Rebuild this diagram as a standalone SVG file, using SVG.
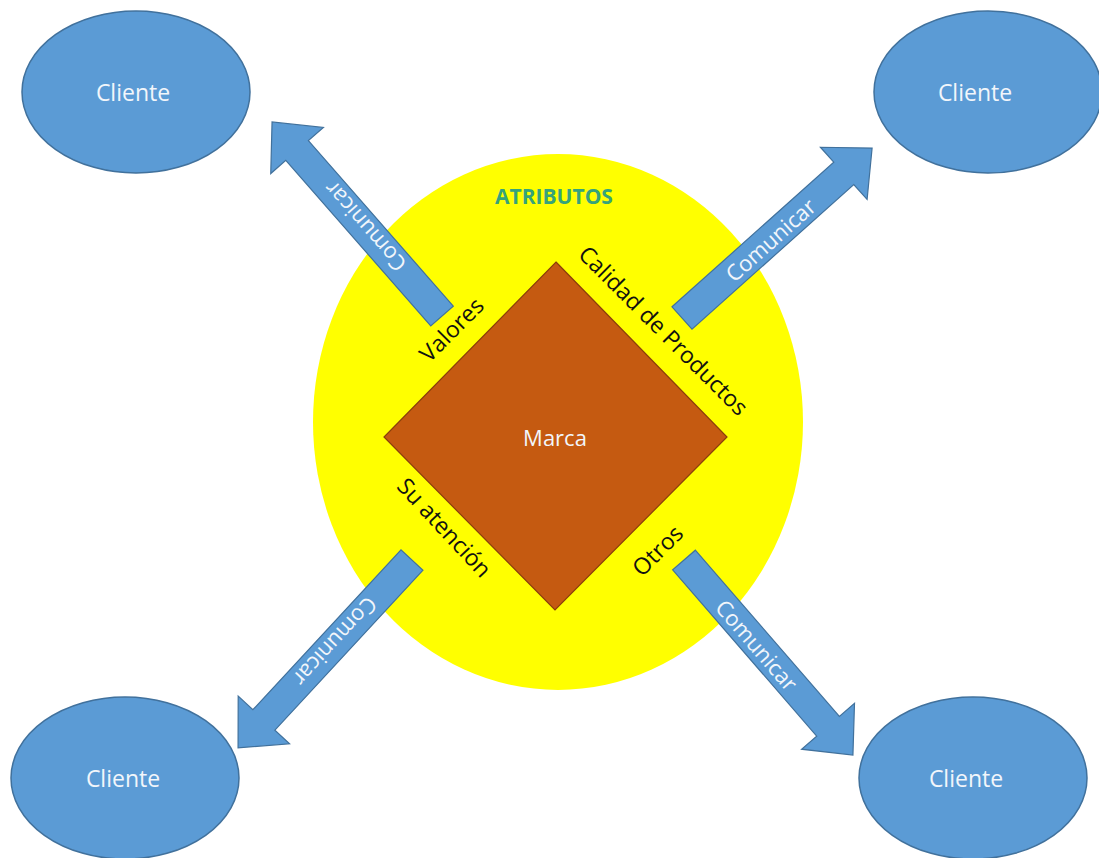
<svg xmlns="http://www.w3.org/2000/svg" width="1099" height="858" viewBox="0 0 1099 858">
<style>
.client{fill:#5b9bd5;stroke:#41719c;stroke-width:1.5}
.ct{font-family:"Open Sans","Liberation Sans",sans-serif;font-size:23px;fill:#f2f6fb;text-anchor:middle;dominant-baseline:central}
.arr{fill:#5b9bd5;stroke:#41719c;stroke-width:1.2}
.at{font-family:"Open Sans","Liberation Sans",sans-serif;font-size:22px;fill:#f2f6fb;text-anchor:middle;dominant-baseline:central}
.lbl{font-family:"Open Sans","Liberation Sans",sans-serif;font-size:23px;fill:#111;text-anchor:middle;dominant-baseline:central}
</style>
<rect width="1099" height="858" fill="#ffffff"/>
<g id="atributos">
<ellipse cx="558" cy="422" rx="245" ry="268" fill="#ffff00"/>
<text x="554" y="196" font-family="Open Sans, Liberation Sans, sans-serif" font-size="21" font-weight="bold" fill="#36a37a" text-anchor="middle" dominant-baseline="central">ATRIBUTOS</text>
</g>
<g id="connectors">
<g transform="translate(442,316) rotate(-131.2)">
<path class="arr" d="M0,-15 L220,-15 L220,-35 L258,0 L220,35 L220,15 L0,15 Z"/>
<text class="at" x="118" y="0">Comunicar</text>
</g>
<g transform="translate(682,318) rotate(-41.8)">
<path class="arr" d="M0,-15 L217,-15 L217,-35 L255,0 L217,35 L217,15 L0,15 Z"/>
<text class="at" x="118" y="0">Comunicar</text>
</g>
<g transform="translate(412,560) rotate(132.8)">
<path class="arr" d="M0,-15 L218,-15 L218,-35 L256,0 L218,35 L218,15 L0,15 Z"/>
<text class="at" x="112" y="0">Comunicar</text>
</g>
<g transform="translate(684,560) rotate(49.1)">
<path class="arr" d="M0,-15 L220,-15 L220,-35 L258,0 L220,35 L220,15 L0,15 Z"/>
<text class="at" x="112" y="0">Comunicar</text>
</g>
</g>
<g id="marca">
<polygon points="556,262 727,437 555,610 384,437" fill="#c55a11" stroke="#8a3f0b" stroke-width="1.2"/>
<text class="ct" x="555" y="437" style="font-size:22px">Marca</text>
</g>
<g id="labels">
<text class="lbl" transform="translate(451,329) rotate(-45)">Valores</text>
<text class="lbl" transform="translate(664,330) rotate(45)">Calidad de Productos</text>
<text class="lbl" transform="translate(445,527) rotate(47)">Su atención</text>
<text class="lbl" transform="translate(657,550) rotate(-45)">Otros</text>
</g>
<g id="cliente-tl"><ellipse class="client" cx="136" cy="92" rx="114" ry="81"/><text class="ct" x="133" y="92">Cliente</text></g>
<g id="cliente-tr"><ellipse class="client" cx="988" cy="92" rx="114" ry="81"/><text class="ct" x="975" y="92">Cliente</text></g>
<g id="cliente-bl"><ellipse class="client" cx="125" cy="778" rx="114" ry="81"/><text class="ct" x="123" y="778">Cliente</text></g>
<g id="cliente-br"><ellipse class="client" cx="973" cy="778" rx="114" ry="81"/><text class="ct" x="966" y="778">Cliente</text></g>
</svg>
